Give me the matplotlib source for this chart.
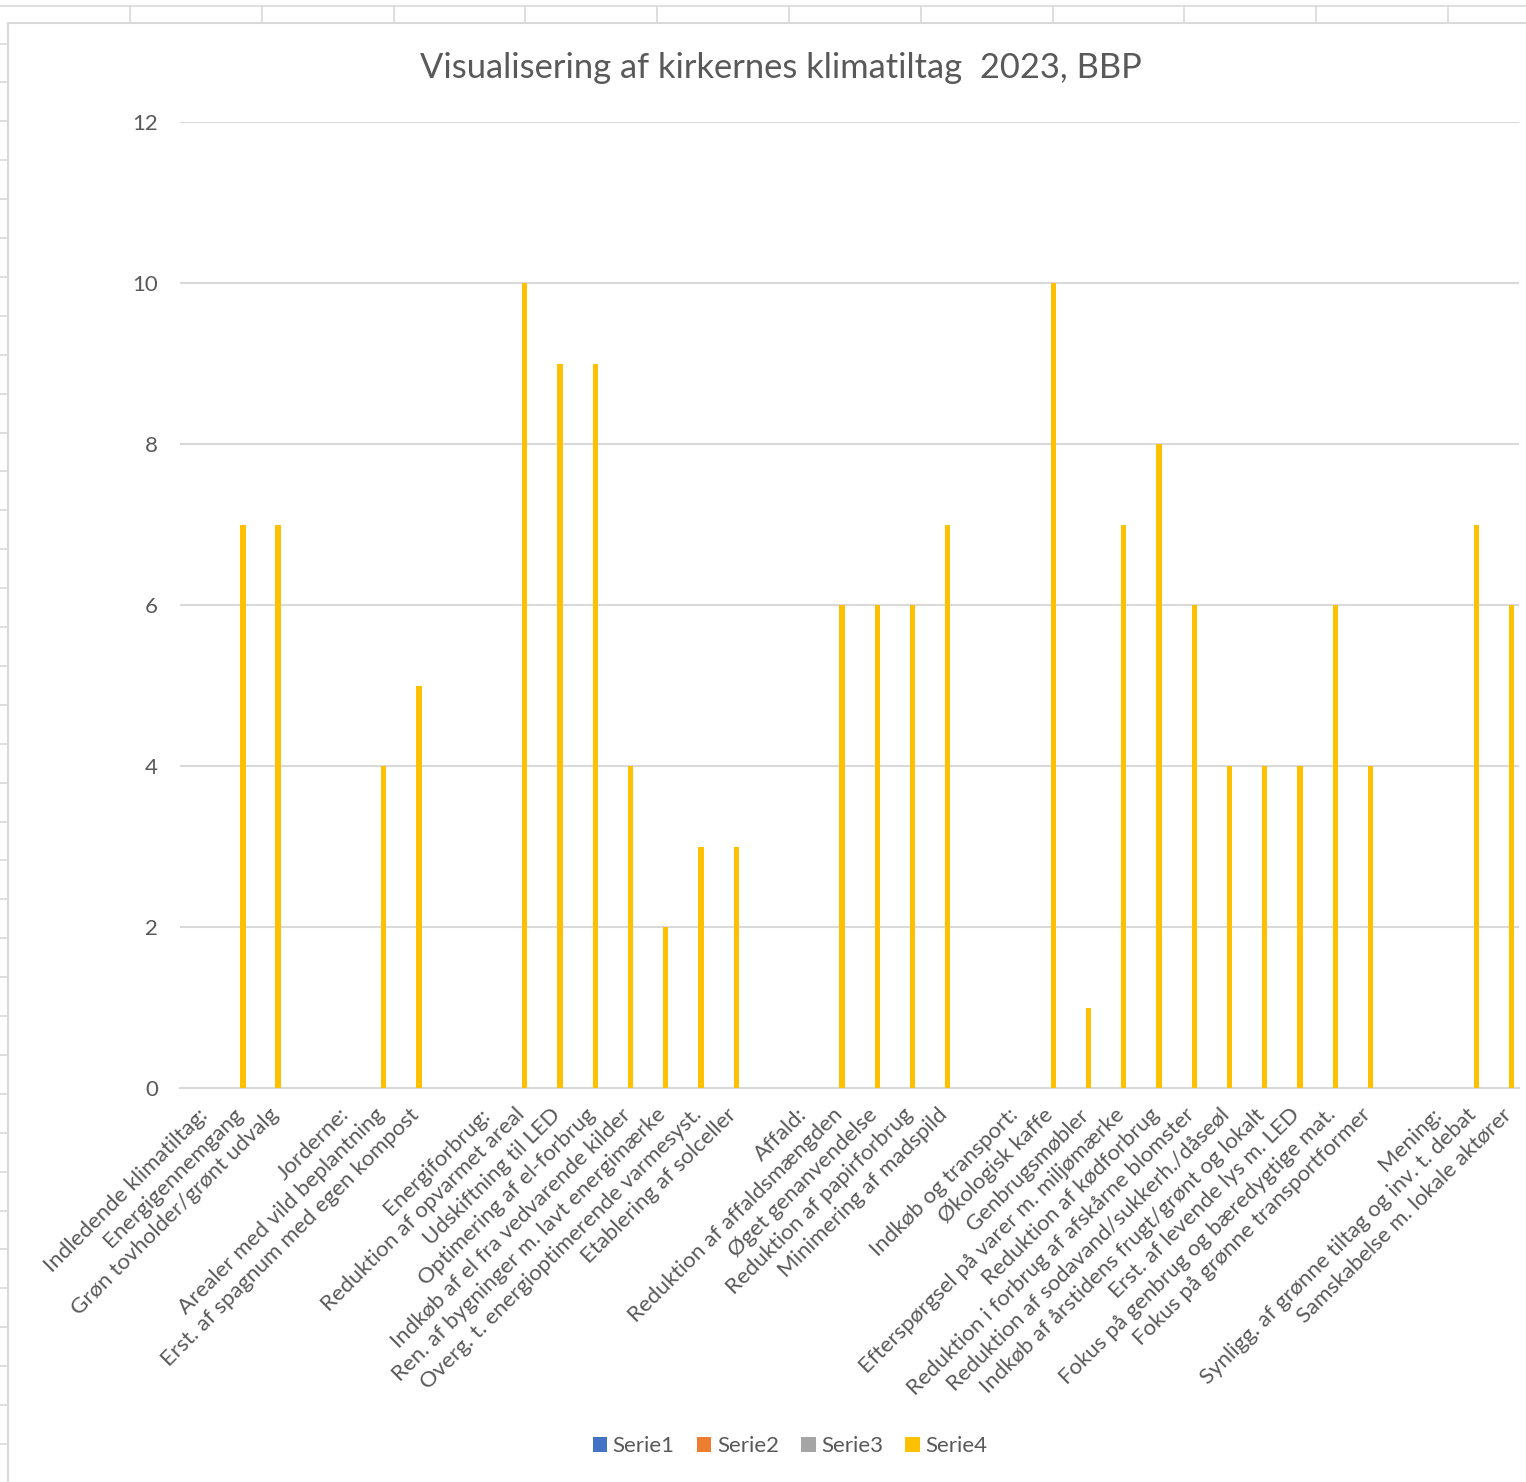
import matplotlib.pyplot as plt
import numpy as np
from matplotlib.lines import Line2D

# Kategorier (tomme strenge = tomme rækker mellem grupperne)
kategorier = [
    "Indledende klimatiltag:", "Energigennemgang", "Grøn tovholder/grønt udvalg", "",
    "Jorderne:", "Arealer med vild beplantning", "Erst. af spagnum med egen kompost", "",
    "Energiforbrug:", "Reduktion af opvarmet areal", "Udskiftning til LED",
    "Optimering af el-forbrug", "Indkøb af el fra vedvarende kilder",
    "Ren. af bygninger m. lavt energimærke", "Overg. t. energioptimerende varmesyst.",
    "Etablering af solceller", "",
    "Affald:", "Reduktion af affaldsmængden", "Øget genanvendelse",
    "Reduktion af papirforbrug", "Minimering af madspild", "",
    "Indkøb og transport:", "Økologisk kaffe", "Genbrugsmøbler",
    "Efterspørgsel på varer m. miljømærke", "Reduktion af kødforbrug",
    "Reduktion i forbrug af afskårne blomster", "Reduktion af sodavand/sukkerh./dåseøl",
    "Indkøb af årstidens frugt/grønt og lokalt", "Erst. af levende lys m. LED",
    "Fokus på genbrug og bæredygtige mat.", "Fokus på grønne transportformer", "",
    "Mening:", "Synligg. af grønne tiltag og inv. t. debat", "Samskabelse m. lokale aktører",
]

serie1 = [0] * len(kategorier)
serie2 = [0] * len(kategorier)
serie3 = [0] * len(kategorier)
serie4 = [0, 7, 7, 0,
          0, 4, 5, 0,
          0, 10, 9, 9, 4, 2, 3, 3, 0,
          0, 6, 6, 6, 7, 0,
          0, 10, 1, 7, 8, 6, 4, 4, 4, 6, 4, 0,
          0, 7, 6]

serier = ["Serie1", "Serie2", "Serie3", "Serie4"]
farver = ["#4472C4", "#ED7D31", "#A5A5A5", "#FFC000"]

TEKST = "#595959"
GITTER = "#D9D9D9"
plt.rcParams["font.family"] = ["Lato", "DejaVu Sans"]

W, H = 1526, 1482
fig = plt.figure(figsize=(W / 100, H / 100), dpi=100)

# regnearkets gitter bag diagrammet
def px_line(x0, y0, x1, y1, lw=1.2, c=GITTER):
    fig.add_artist(Line2D([x0 / W, x1 / W], [1 - y0 / H, 1 - y1 / H],
                          transform=fig.transFigure, color=c, lw=lw, zorder=0))

px_line(0, 6, W, 6)
for x in np.arange(130, W, 131.8):
    px_line(x, 6, x, 23)
for y in np.arange(43.5, H + 1, 38.9):
    px_line(0, y, 8, y)
px_line(8, 23, W, 23, lw=1.5)
px_line(8, 23, 8, H, lw=1.5)

ax = fig.add_axes([180 / W, 1 - 1088 / H, 1339 / W, (1088 - 122) / H])

x = np.arange(len(kategorier))
bredde = 0.15
for i, (navn, vals, farve) in enumerate(zip(serier, [serie1, serie2, serie3, serie4], farver)):
    ax.bar(x + (i - 1.5) * 0.19, vals, width=bredde, color=farve, label=navn, zorder=3)

ax.set_xlim(-0.5, len(kategorier) - 0.5)
ax.set_ylim(0, 12)
ax.set_yticks(range(0, 13, 2))
ax.grid(axis="y", color=GITTER, lw=1.5, zorder=0)
for s in ["top", "right", "left"]:
    ax.spines[s].set_visible(False)
ax.spines["bottom"].set_color(GITTER)
ax.spines["bottom"].set_linewidth(1.5)
ax.tick_params(axis="both", length=0, colors=TEKST, labelsize=16)
ax.tick_params(axis="y", pad=16)
ax.set_xticks(x)
ax.set_xticklabels(kategorier, rotation=45, ha="right", rotation_mode="anchor",
                   fontsize=16, color=TEKST)
ax.tick_params(axis="x", pad=12)

fig.text(781 / W, 1 - 68 / H, "Visualisering af kirkernes klimatiltag  2023, BBP",
         ha="center", va="center", fontsize=24.8, color=TEKST)

handles, labels = ax.get_legend_handles_labels()
fig.legend(handles, labels, loc="center", bbox_to_anchor=(790 / W, 1 - 1446 / H),
           ncol=4, frameon=False, fontsize=16, labelcolor=TEKST,
           handlelength=0.65, handleheight=0.65, handletextpad=0.25, columnspacing=1.0)

fig.savefig("out.png", dpi=100, facecolor="white")
